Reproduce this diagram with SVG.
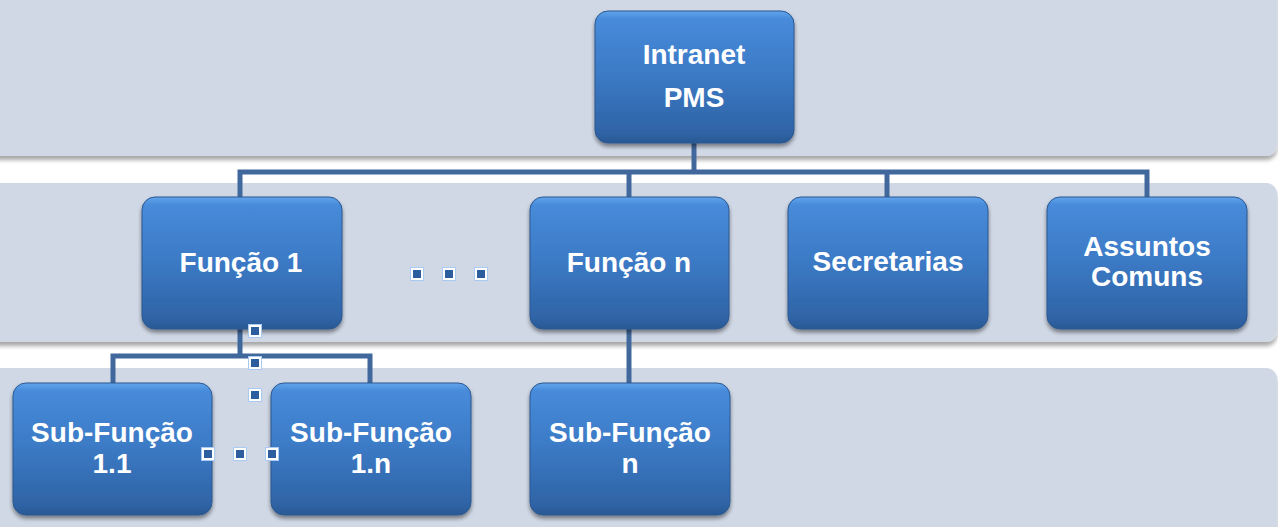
<svg xmlns="http://www.w3.org/2000/svg" width="1278" height="527" viewBox="0 0 1278 527">
  <defs>
    <linearGradient id="boxGrad" x1="0" y1="0" x2="0" y2="1">
      <stop offset="0" stop-color="#62a4ec"/>
      <stop offset="0.06" stop-color="#478bda"/>
      <stop offset="0.5" stop-color="#3b79c4"/>
      <stop offset="0.92" stop-color="#2f64a6"/>
      <stop offset="1" stop-color="#2a5893"/>
    </linearGradient>
    <filter id="boxShadow" x="-10%" y="-10%" width="120%" height="125%">
      <feGaussianBlur in="SourceAlpha" stdDeviation="2"/>
      <feOffset dx="0" dy="3" result="b"/>
      <feComponentTransfer><feFuncA type="linear" slope="0.45"/></feComponentTransfer>
      <feMerge><feMergeNode/><feMergeNode in="SourceGraphic"/></feMerge>
    </filter>
    <filter id="bandShadow" x="-5%" y="-10%" width="110%" height="130%">
      <feGaussianBlur in="SourceAlpha" stdDeviation="2"/>
      <feOffset dx="0" dy="4" result="b"/>
      <feComponentTransfer><feFuncA type="linear" slope="0.35"/></feComponentTransfer>
      <feMerge><feMergeNode/><feMergeNode in="SourceGraphic"/></feMerge>
    </filter>
    <g id="dot">
      <rect x="-7" y="-7" width="14" height="14" fill="#a9cbf3"/>
      <rect x="-6" y="-6" width="12" height="12" fill="#ffffff"/>
      <rect x="-4" y="-4" width="8" height="8" fill="#2c5d9e"/>
    </g>
  </defs>
  <style>
    .band { fill: #d0d8e6; }
    .box { fill: url(#boxGrad); stroke: #2b5890; stroke-width: 1; filter: url(#boxShadow); }
    .lbl { font-family: "Liberation Sans", Arial, sans-serif; font-weight: bold; font-size: 28px; fill: #ffffff; text-anchor: middle; }
    .conn { fill: none; stroke: #41689c; stroke-width: 5; stroke-linejoin: miter; }
  </style>

  <rect width="1278" height="527" fill="#ffffff"/>

  <g id="bands" filter="url(#bandShadow)">
    <rect class="band" x="-20" y="-20" width="1297" height="176" rx="11"/>
    <rect class="band" x="-20" y="183" width="1297" height="159" rx="11"/>
    <rect class="band" x="-20" y="368" width="1297" height="180" rx="11"/>
  </g>

  <g id="connectors">
    <path class="conn" d="M694 143 V172"/>
    <path class="conn" d="M240 197 V172 H1147 V197"/>
    <path class="conn" d="M629 172 V197"/>
    <path class="conn" d="M887 172 V197"/>
    <path class="conn" d="M240 329 V356"/>
    <path class="conn" d="M113 383 V356 H370 V383"/>
    <path class="conn" d="M629 329 V383"/>
  </g>

  <g id="node-intranet">
    <rect class="box" x="595" y="11" width="199" height="132" rx="13"/>
    <text class="lbl" x="694" y="64">Intranet</text>
    <text class="lbl" x="694" y="107">PMS</text>
  </g>

  <g id="node-funcao1">
    <rect class="box" x="142" y="197" width="200" height="132" rx="13"/>
    <text class="lbl" x="241" y="272">Função 1</text>
  </g>

  <g id="node-funcaon">
    <rect class="box" x="530" y="197" width="199" height="132" rx="13"/>
    <text class="lbl" x="629" y="272">Função n</text>
  </g>

  <g id="node-secretarias">
    <rect class="box" x="788" y="197" width="200" height="132" rx="13"/>
    <text class="lbl" x="888" y="271">Secretarias</text>
  </g>

  <g id="node-assuntos">
    <rect class="box" x="1047" y="197" width="200" height="132" rx="13"/>
    <text class="lbl" x="1147" y="256">Assuntos</text>
    <text class="lbl" x="1147" y="286">Comuns</text>
  </g>

  <g id="node-sub11">
    <rect class="box" x="13" y="383" width="199" height="132" rx="13"/>
    <text class="lbl" x="112" y="442">Sub-Função</text>
    <text class="lbl" x="112" y="473">1.1</text>
  </g>

  <g id="node-sub1n">
    <rect class="box" x="271" y="383" width="200" height="132" rx="13"/>
    <text class="lbl" x="371" y="442">Sub-Função</text>
    <text class="lbl" x="371" y="473">1.n</text>
  </g>

  <g id="node-subn">
    <rect class="box" x="530" y="383" width="200" height="132" rx="13"/>
    <text class="lbl" x="630" y="442">Sub-Função</text>
    <text class="lbl" x="630" y="473">n</text>
  </g>

  <g id="ellipsis-h1">
    <use href="#dot" x="417" y="274"/>
    <use href="#dot" x="449" y="274"/>
    <use href="#dot" x="481" y="274"/>
  </g>
  <g id="ellipsis-v">
    <use href="#dot" x="255" y="331"/>
    <use href="#dot" x="255" y="363"/>
    <use href="#dot" x="255" y="395"/>
  </g>
  <g id="ellipsis-h2">
    <use href="#dot" x="208" y="454"/>
    <use href="#dot" x="240" y="454"/>
    <use href="#dot" x="272" y="454"/>
  </g>
</svg>
